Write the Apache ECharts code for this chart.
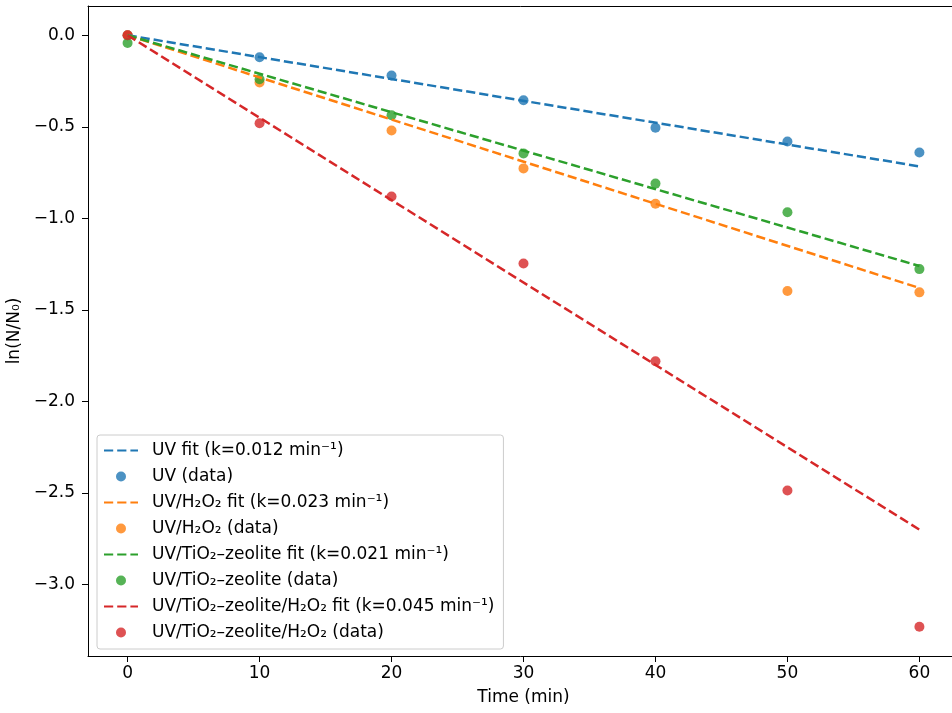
<!DOCTYPE html>
<html>
<head>
<meta charset="utf-8">
<script src="https://cdn.jsdelivr.net/npm/echarts@6/dist/echarts.min.js"></script>
<style>
html,body{margin:0;padding:0;background:#fff;}
#chart{width:952px;height:713px;}
</style>
</head>
<body>
<div id="chart"></div>
<script>
// ---- data ----
var times = [0, 10, 20, 30, 40, 50, 60];
var uvData = [0, -0.12, -0.22, -0.355, -0.505, -0.58, -0.64];
var h2o2Data = [0, -0.258, -0.52, -0.727, -0.92, -1.397, -1.404];
var zeoData = [-0.042, -0.24, -0.437, -0.645, -0.81, -0.966, -1.277];
var zeoH2o2Data = [0, -0.48, -0.88, -1.246, -1.78, -2.486, -3.23];

var fitTimes = [0, 60];
var uvFit = [0, -0.716];
var h2o2Fit = [0, -1.38];
var zeoFit = [0, -1.26];
var zeoH2o2Fit = [0, -2.70];

var xTicks = [0, 10, 20, 30, 40, 50, 60];
var yTicks = [0, -0.5, -1.0, -1.5, -2.0, -2.5, -3.0];

var names = [
  'UV fit (k=0.012 min\u207B\u00B9)', 'UV (data)',
  'UV/H\u2082O\u2082 fit (k=0.023 min\u207B\u00B9)', 'UV/H\u2082O\u2082 (data)',
  'UV/TiO\u2082\u2013zeolite fit (k=0.021 min\u207B\u00B9)', 'UV/TiO\u2082\u2013zeolite (data)',
  'UV/TiO\u2082\u2013zeolite/H\u2082O\u2082 fit (k=0.045 min\u207B\u00B9)', 'UV/TiO\u2082\u2013zeolite/H\u2082O\u2082 (data)'
];
var colors = ['#1f77b4', '#ff7f0e', '#2ca02c', '#d62728'];

function pairs(xs, ys) { return xs.map(function (x, i) { return [x, ys[i]]; }); }

var groups = [
  [uvFit, uvData], [h2o2Fit, h2o2Data], [zeoFit, zeoData], [zeoH2o2Fit, zeoH2o2Data]
];
var series = [];
groups.forEach(function (g, i) {
  series.push({
    name: names[2 * i], type: 'line', data: pairs(fitTimes, g[0]),
    symbol: 'none', showSymbol: false, silent: true,
    lineStyle: { color: colors[i], width: 2.5, type: [9.2, 4] },
    itemStyle: { color: colors[i] }
  });
  series.push({
    name: names[2 * i + 1], type: 'scatter', data: pairs(times, g[1]),
    symbol: 'circle', symbolSize: 10,
    itemStyle: { color: colors[i], opacity: 0.8 }
  });
});

var legendData = names.map(function (n, i) {
  return (i % 2 === 0) ? { name: n, itemStyle: { opacity: 0 } } : { name: n };
});

var font = 'DejaVu Sans';
var fs = 17;
var fmt = function (v) { return (Math.abs(v) < 1e-9 ? '0.0' : v.toFixed(1)).replace('-', '\u2212'); };

var chart = echarts.init(document.getElementById('chart'), null, { renderer: 'canvas' });
chart.setOption({
  animation: false,
  backgroundColor: '#ffffff',
  grid: { left: 88, top: 6, width: 871, height: 650, show: false, containLabel: false, outerBoundsMode: 'none' },
  xAxis: [{
    type: 'value', min: -3, max: 63,
    name: 'Time (min)', nameLocation: 'middle', nameGap: 33,
    nameTextStyle: { fontFamily: font, fontSize: fs, color: '#000' },
    axisLine: { show: true, onZero: false, lineStyle: { color: '#000', width: 1 } },
    axisTick: { show: true, length: 6, lineStyle: { color: '#000' }, customValues: xTicks },
    axisLabel: { fontFamily: font, fontSize: fs, color: '#000', margin: 9, customValues: xTicks },
    splitLine: { show: false }
  }, {
    type: 'value', position: 'top', min: -3, max: 63,
    axisLine: { show: true, onZero: false, lineStyle: { color: '#000', width: 1 } },
    axisTick: { show: false }, axisLabel: { show: false }, splitLine: { show: false }
  }],
  yAxis: {
    type: 'value', min: -3.39, max: 0.16,
    name: 'ln(N/N\u2080)', nameLocation: 'middle', nameGap: 57, nameRotate: 90,
    nameTextStyle: { fontFamily: font, fontSize: fs, color: '#000' },
    axisLine: { show: true, onZero: false, lineStyle: { color: '#000', width: 1 } },
    axisTick: { show: true, length: 6, lineStyle: { color: '#000' }, customValues: yTicks },
    axisLabel: { fontFamily: font, fontSize: fs, color: '#000', margin: 13, customValues: yTicks, formatter: fmt },
    splitLine: { show: false }
  },
  legend: {
    orient: 'vertical', left: 97, top: 435,
    data: legendData,
    itemWidth: 34, itemHeight: 10, itemGap: 7,
    padding: [6, 9, 7, 6],
    backgroundColor: 'rgba(255,255,255,0.8)', borderColor: '#cccccc', borderWidth: 1, borderRadius: 3,
    textStyle: { fontFamily: font, fontSize: fs, color: '#000', lineHeight: 19, padding: [0, 0, 0, 9] },
    selectedMode: false
  },
  series: series
});
</script>
</body>
</html>
